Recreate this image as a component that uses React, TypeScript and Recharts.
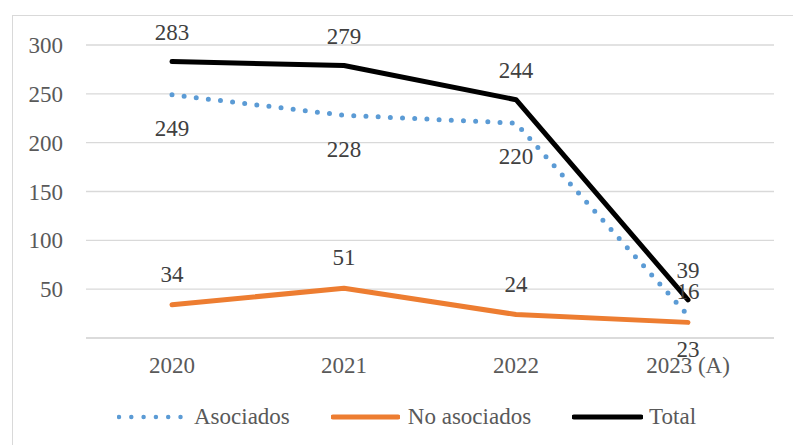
import { CartesianGrid, LabelList, Legend, Line, LineChart, XAxis, YAxis } from 'recharts'

const categories = ['2020', '2021', '2022', '2023 (A)']
const asociados = [249, 228, 220, 23]
const noAsociados = [34, 51, 24, 16]
const total = [283, 279, 244, 39]
const yTicks = [0, 50, 100, 150, 200, 250, 300]

const data = categories.map((year, i) => ({
  year,
  asociados: asociados[i],
  noAsociados: noAsociados[i],
  total: total[i],
}))

const font = "'Liberation Serif', Tinos, 'Times New Roman', Times, 'DejaVu Serif', serif"
const grid = '#D9D9D9'
const blue = '#5B9BD5'
const orange = '#ED7D31'

const legendItems = [
  { name: 'Asociados', color: blue, dash: '0 12.3', w: 66, gap: 11 },
  { name: 'No asociados', color: orange, dash: undefined, w: 69, gap: 8 },
  { name: 'Total', color: '#000000', dash: undefined, w: 71, gap: 6 },
]

function LegendContent() {
  return (
    <div style={{ width: 793, height: 40, display: 'flex', alignItems: 'flex-start', paddingLeft: 117, boxSizing: 'border-box' }}>
      {legendItems.map((it) => (
        <div key={it.name} style={{ display: 'flex', alignItems: 'center', marginRight: 41, height: 24 }}>
          <svg width={it.w} height={8} style={{ marginRight: it.gap }}>
            <line x1={2} y1={4} x2={it.w - 2} y2={4} stroke={it.color} strokeWidth={it.dash ? 4.5 : 5}
              strokeDasharray={it.dash} strokeLinecap="round" />
          </svg>
          <span style={{ fontFamily: font, fontSize: 23, color: '#595959', lineHeight: '24px' }}>{it.name}</span>
        </div>
      ))}
    </div>
  )
}

export default function App() {
  return (
    <div style={{ position: 'absolute', left: 0, top: 0, width: 793, height: 445, overflow: 'hidden', background: '#fff', fontFamily: font }}>
      <div style={{ position: 'absolute', left: 12, top: 15, width: 820, height: 460, border: `1px solid ${grid}` }} />
      <LineChart width={793} height={445} data={data} margin={{ top: 45, right: 19, left: 0, bottom: 0 }} style={{ fontFamily: font }}>
        <CartesianGrid vertical={false} stroke={grid} strokeWidth={1.3} />
        <XAxis dataKey="year" height={67} padding={{ left: 86, right: 86 }} axisLine={{ stroke: grid, strokeWidth: 1.3 }}
          tickLine={false} tickMargin={13} tick={{ fill: '#595959', fontSize: 23, fontFamily: font }} />
        <YAxis width={86} domain={[0, 300]} ticks={yTicks} axisLine={false} tickLine={false} tickMargin={17}
          tickFormatter={(v) => (v === 0 ? '' : `${v}`)}
          tick={{ fill: '#595959', fontSize: 23, fontFamily: font }} />
        <Legend verticalAlign="bottom" content={<LegendContent />} />
        <Line dataKey="asociados" name="Asociados" stroke={blue} strokeWidth={5} strokeDasharray="0 12.2"
          strokeLinecap="round" dot={false} isAnimationActive={false}>
          <LabelList dataKey="asociados" position="bottom" offset={25} fill="#404040" fontSize={23} fontFamily={font} />
        </Line>
        <Line dataKey="noAsociados" name="No asociados" stroke={orange} strokeWidth={5} strokeLinecap="round"
          strokeLinejoin="round" dot={false} isAnimationActive={false}>
          <LabelList dataKey="noAsociados" position="top" offset={23} fill="#404040" fontSize={23} fontFamily={font} />
        </Line>
        <Line dataKey="total" name="Total" stroke="#000000" strokeWidth={5} strokeLinecap="round"
          strokeLinejoin="round" dot={false} isAnimationActive={false}>
          <LabelList dataKey="total" position="top" offset={22} fill="#404040" fontSize={23} fontFamily={font} />
        </Line>
      </LineChart>
    </div>
  )
}
